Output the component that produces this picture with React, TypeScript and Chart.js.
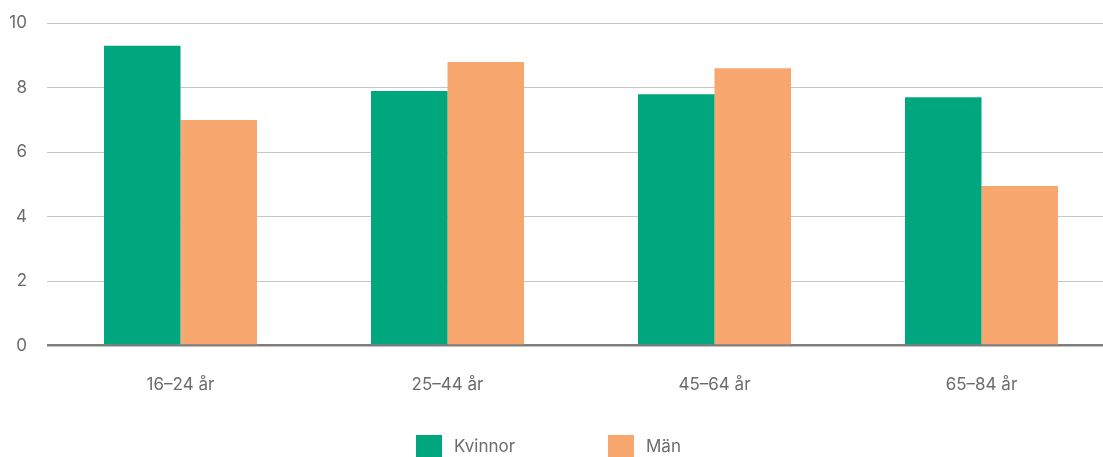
import React, { useEffect, useRef } from "react";
import { Chart, registerables } from "chart.js";

Chart.register(...registerables);

const categories = ["16–24 år", "25–44 år", "45–64 år", "65–84 år"];
const kvinnor = [9.3, 7.9, 7.8, 7.7];
const man = [7.0, 8.8, 8.6, 4.95];
const yTicks = [0, 2, 4, 6, 8, 10];
const seriesNames = ["Kvinnor", "Män"];
const colors = ["#00A67E", "#F8A86E"];

const FONT = "Inter, sans-serif";
const TEXT = "#6b6b6b";

export default function App() {
  const ref = useRef<HTMLCanvasElement | null>(null);

  useEffect(() => {
    document.body.style.margin = "0";
    const chart = new Chart(ref.current!, {
      type: "bar",
      data: {
        labels: categories,
        datasets: [
          { label: seriesNames[0], data: kvinnor, backgroundColor: colors[0], borderWidth: 0 },
          { label: seriesNames[1], data: man, backgroundColor: colors[1], borderWidth: 0 },
        ],
      },
      options: {
        animation: false,
        responsive: false,
        maintainAspectRatio: false,
        layout: { padding: { left: 8, right: 0, top: 0, bottom: 33 } },
        plugins: { legend: { display: false }, tooltip: { enabled: false } },
        datasets: { bar: { categoryPercentage: 0.573, barPercentage: 1 } },
        scales: {
          x: {
            grid: { display: false, drawTicks: false },
            border: { display: false },
            ticks: { color: TEXT, font: { family: FONT, size: 17 }, padding: 29 },
          },
          y: {
            min: 0,
            max: 10,
            afterBuildTicks: (axis: any) => {
              axis.ticks = yTicks.map((v) => ({ value: v }));
            },
            afterFit: (axis: any) => {
              axis.width = 39;
            },
            grid: {
              drawTicks: false,
              color: (c: any) => (c.tick && c.tick.value === 0 ? "#7f7f7f" : "#c6c6c6"),
              lineWidth: (c: any) => (c.tick && c.tick.value === 0 ? 2.5 : 1),
            },
            border: { display: false },
            ticks: { color: TEXT, font: { family: FONT, size: 17 }, padding: 20 },
          },
        },
      },
    });
    return () => chart.destroy();
  }, []);

  return (
    <div style={{ position: "relative", width: 1103, height: 457, overflow: "hidden", fontFamily: FONT }}>
      <canvas
        ref={ref}
        width={1115}
        height={464}
        style={{ display: "block", position: "absolute", left: 0, top: -7 }}
      />
      {seriesNames.map((name, i) => (
        <div
          key={name}
          style={{
            position: "absolute",
            top: 435,
            left: i === 0 ? 416 : 608,
            display: "flex",
            alignItems: "center",
            height: 22,
          }}
        >
          <span style={{ display: "inline-block", width: 26, height: 22, background: colors[i] }} />
          <span style={{ marginLeft: 12, color: TEXT, fontSize: 17 }}>{name}</span>
        </div>
      ))}
    </div>
  );
}
